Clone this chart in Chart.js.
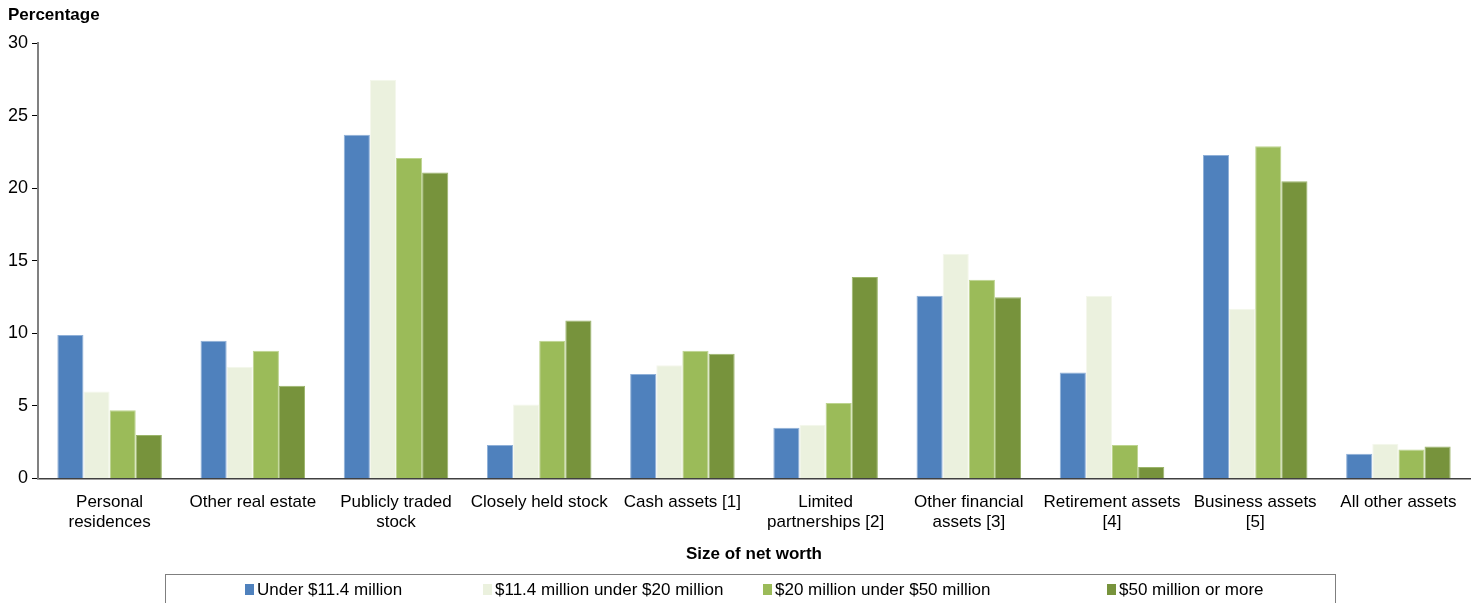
<!DOCTYPE html>
<html><head><meta charset="utf-8">
<script src="https://cdn.jsdelivr.net/npm/chart.js@4"></script>
<style>
html,body{margin:0;padding:0;background:#fff;}
#wrap{position:relative;width:1481px;height:603px;}
#legend{position:absolute;left:165px;top:574px;width:1171px;height:30px;border:1px solid #7f7f7f;box-sizing:border-box;font-family:"Liberation Sans",Arial,sans-serif;font-size:17px;color:#000;}
.li{position:absolute;top:5px;white-space:nowrap;}
.sw{display:inline-block;width:9px;height:11px;margin-right:3px;vertical-align:0px;}
</style></head>
<body><div id="wrap"><canvas id="c" width="1481" height="603"></canvas><div id="legend"></div></div>
<script>
const categories = [['Personal','residences'],'Other real estate',['Publicly traded','stock'],'Closely held stock','Cash assets [1]',['Limited','partnerships [2]'],['Other financial','assets [3]'],['Retirement assets','[4]'],['Business assets','[5]'],'All other assets'];
const seriesNames = ['Under $11.4 million','$11.4 million under $20 million','$20 million under $50 million','$50 million or more'];
const under11 = [9.9, 9.5, 23.7, 2.3, 7.2, 3.5, 12.6, 7.3, 22.3, 1.7];
const m11to20 = [6.0, 7.7, 27.5, 5.1, 7.8, 3.7, 15.5, 12.6, 11.7, 2.4];
const m20to50 = [4.7, 8.8, 22.1, 9.5, 8.8, 5.2, 13.7, 2.3, 22.9, 2.0];
const m50plus = [3.0, 6.4, 21.1, 10.9, 8.6, 13.9, 12.5, 0.8, 20.5, 2.2];
const yTicks = [0, 5, 10, 15, 20, 25, 30];

const colors = ['#4F81BD','#EBF1DE','#9BBB59','#77933C'];
const borders = ['#8FB0D8','#F4F7EC','#BDD48F','#9BB56A'];
const legendLeft = [79, 317, 597, 941];
const seriesData = [under11, m11to20, m20to50, m50plus];

const FONT = '"Liberation Sans", Arial, sans-serif';
new Chart(document.getElementById('c'), {
  type: 'bar',
  data: {
    labels: categories,
    datasets: seriesData.map((d,i)=>({label: seriesNames[i], data: d, backgroundColor: colors[i], borderColor: borders[i], borderWidth: {top:1,left:1,right:1,bottom:0}, categoryPercentage: 0.73, barPercentage: 1.0}))
  },
  options: {
    responsive: false, animation: false,
    layout: {padding: {left: 8, right: 11, top: 0, bottom: 34}},
    plugins: {
      legend: {display: false},
      tooltip: {enabled: false},
      title: {display: true, text: 'Percentage', align: 'start', color: '#000', font: {family: FONT, size: 17, weight: 'bold'}, padding: {top: 5, bottom: 18}}
    },
    scales: {
      x: {
        grid: {display: false},
        border: {display: true, color: '#404040', width: 1.5},
        ticks: {color: '#000', font: {family: FONT, size: 17, lineHeight: 1.18}, maxRotation: 0, autoSkip: false, padding: 6},
        title: {display: true, text: 'Size of net worth', color: '#000', font: {family: FONT, size: 17, weight: 'bold'}, padding: {top: 6}}
      },
      y: {
        min: 0, max: 30,
        afterBuildTicks: (ax)=>{ ax.ticks = yTicks.map(v=>({value:v})); },
        afterFit: (ax)=>{ ax.width = 30; },
        grid: {display: true, drawOnChartArea: false, drawTicks: true, tickLength: 6, color: '#000'},
        border: {display: true, color: '#808080', width: 2},
        ticks: {color: '#000', font: {family: FONT, size: 18}, padding: 4}
      }
    }
  }
});

const lg = document.getElementById('legend');
seriesNames.forEach((n,i)=>{
  const d = document.createElement('div');
  d.className = 'li'; d.style.left = legendLeft[i] + 'px';
  const s = document.createElement('span'); s.className='sw'; s.style.background = colors[i];
  d.appendChild(s); d.appendChild(document.createTextNode(n));
  lg.appendChild(d);
});
</script></body></html>
